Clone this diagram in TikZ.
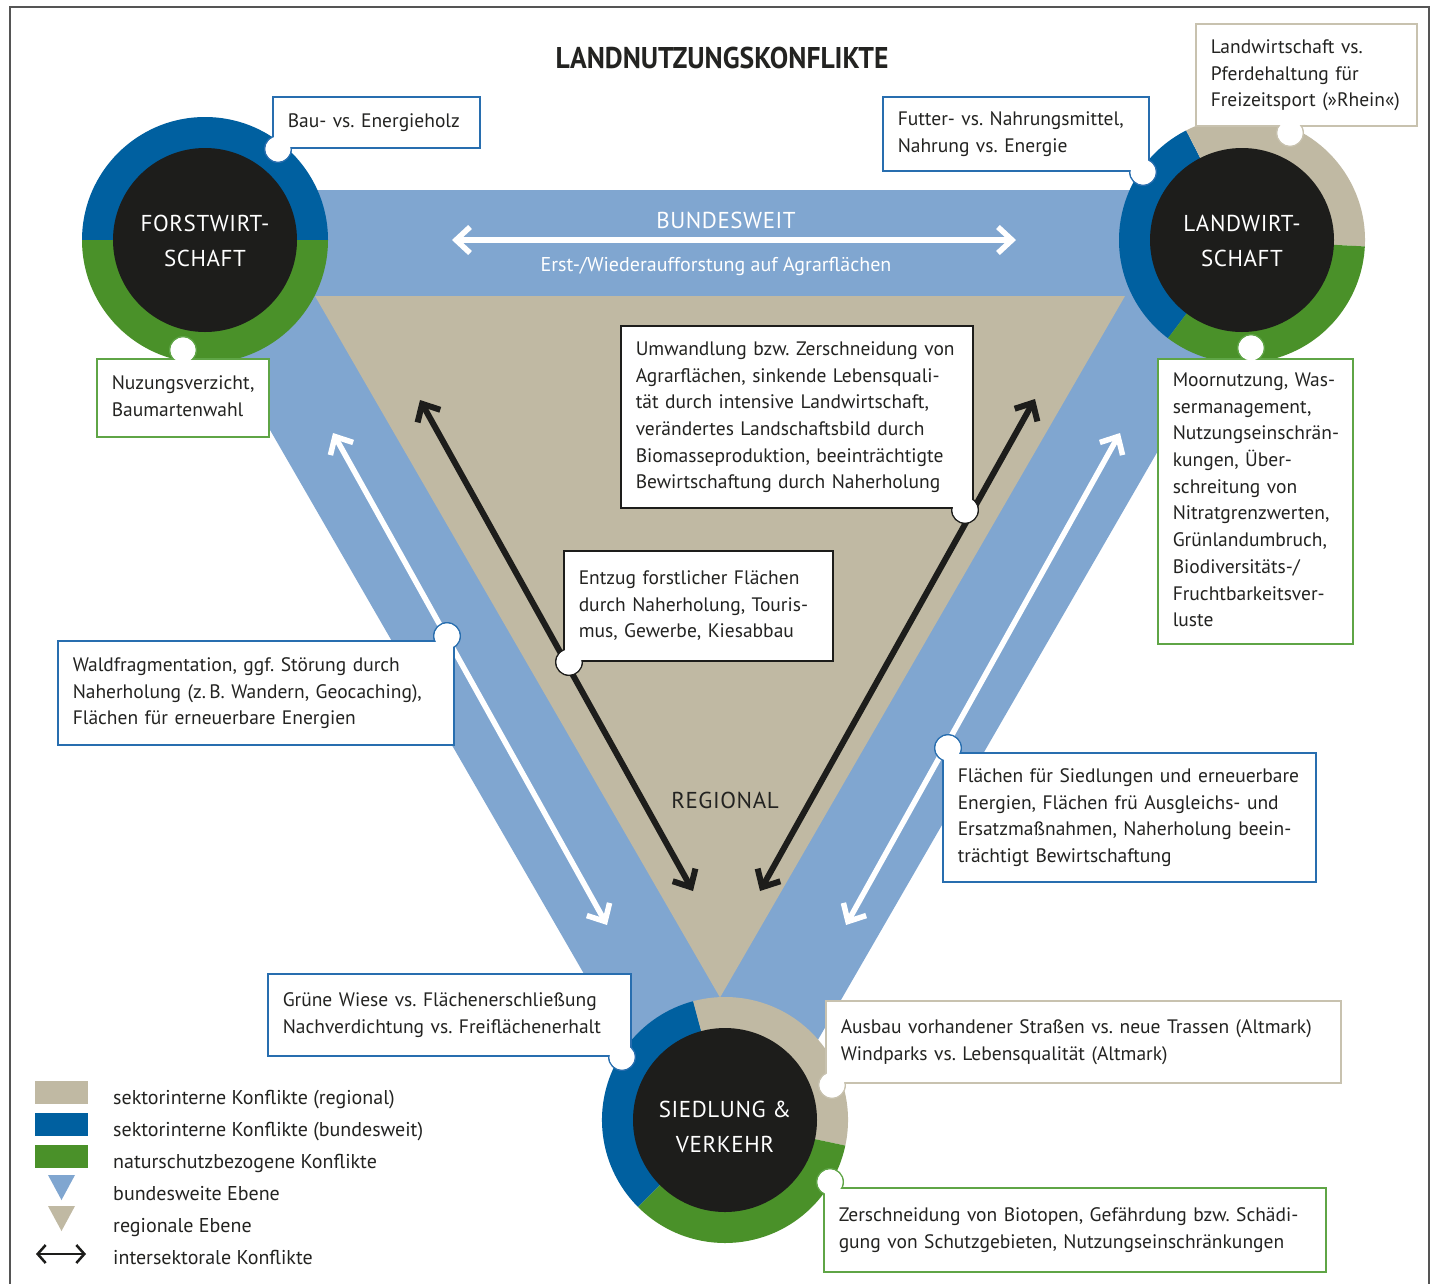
\documentclass[tikz,border=0pt]{standalone}
\usepackage{fontspec}
\setmainfont{PT Sans}
\newfontfamily\capsfont[LetterSpace=2.5]{PT Sans}
\newfontfamily\titlefont[FakeStretch=0.92]{PT Sans}
\usetikzlibrary{arrows.meta}
\frenchspacing
\definecolor{dkblue}{RGB}{0,96,160}
\definecolor{grn}{RGB}{74,145,41}
\definecolor{beige}{RGB}{192,185,163}
\definecolor{ltblue}{RGB}{128,166,208}
\definecolor{blk}{RGB}{29,29,27}
\definecolor{bxblue}{RGB}{40,110,175}
\definecolor{bxgreen}{RGB}{95,165,70}
\definecolor{bxbeige}{RGB}{200,194,175}
\definecolor{txt}{RGB}{35,35,33}
\definecolor{frame}{RGB}{85,85,85}
\tikzset{
  box/.style={draw=#1, fill=white, line width=1.5pt, anchor=north west, align=left,
    inner xsep=15pt, inner ysep=0pt, text=txt, font=\fontsize{19.5}{26.7}\selectfont},
  wharrow/.style={white, line width=5.5pt,
    {Straight Barb[length=14pt,width=26pt]}-{Straight Barb[length=14pt,width=26pt]}},
  bkarrow/.style={blk, line width=6pt,
    {Straight Barb[length=14pt,width=26pt]}-{Straight Barb[length=14pt,width=26pt]}},
  ringlabel/.style={text=white, align=center, font=\capsfont\fontsize{23}{35}\selectfont},
  legtext/.style={anchor=base west, text=txt, font=\fontsize{20}{24}\selectfont, inner sep=0pt},
}
\newcommand\bx[9]{%
  \pgfmathsetmacro\bw{#4-#2}\pgfmathsetmacro\bh{#5-#3}\pgfmathsetmacro\tw{#4-#2-30}%
  \draw[#6, fill=white, line width=1.5pt] (#7,#8) circle (13.25);
  \node[box=#6, minimum width=\bw pt, minimum height=\bh pt, text width=\tw pt] (#1) at (#2,#3)
    {\begin{tabular}{@{}l@{}}#9\end{tabular}};
  \fill[white] (#7,#8) circle (12.5);
}
\begin{document}
\begin{tikzpicture}[x=1pt,y=-1pt]
\clip (0,0) rectangle (1437,1283);
\fill[white] (0,0) rectangle (1437,1283);
\draw[frame, line width=2pt] (10,7) rectangle (1429,1300);

% bands
\fill[ltblue] (131.5,190) -- (1308.5,190) -- (720,1209.5) -- cycle;
\fill[beige] (315,296) -- (1125,296) -- (720,997.5) -- cycle;

% arrow end points
\coordinate (hA) at (452,240); \coordinate (hB) at (1016,240);
\coordinate (wlA) at (333,433); \coordinate (wlB) at (607,925);
\coordinate (wrA) at (1120,433); \coordinate (wrB) at (846,925);
\coordinate (blA) at (420,400); \coordinate (blB) at (693,891);
\coordinate (brA) at (1035,399); \coordinate (brB) at (760,891);
\draw[wharrow] (hA) -- (hB);
\draw[wharrow] (wlA) -- (wlB);
\draw[wharrow] (wrA) -- (wrB);
\draw[bkarrow] (blA) -- (blB);
\draw[bkarrow] (brA) -- (brB);

\node[text=white, font=\capsfont\fontsize{23}{28}\selectfont] (bw) at (726,220) {BUNDESWEIT};
\node[text=white, font=\fontsize{20}{24}\selectfont] (ea) at (716,266) {Erst-/Wiederaufforstung auf Agrarflächen};
\node[text=txt, font=\capsfont\fontsize{23}{28}\selectfont] (rg) at (725,800) {REGIONAL};

% Forstwirtschaft
\coordinate (F) at (205,240);
\fill[dkblue] (F) -- ++(0:123) arc[start angle=0, end angle=-180, radius=123] -- cycle;
\fill[grn] (F) -- ++(180:123) arc[start angle=180, end angle=0, radius=123] -- cycle;
\fill[blk] (F) circle (92);
\node[ringlabel] (Ft) at (205,241) {FORSTWIRT-\\SCHAFT};

% Landwirtschaft
\coordinate (L) at (1242,240);
\fill[dkblue] (L) -- ++(-117:123) arc[start angle=-117, end angle=-233, radius=123] -- cycle;
\fill[beige] (L) -- ++(3:123) arc[start angle=3, end angle=-117, radius=123] -- cycle;
\fill[grn] (L) -- ++(-233:123) arc[start angle=-233, end angle=-357, radius=123] -- cycle;
\fill[blk] (L) circle (92);
\node[ringlabel] (Lt) at (1242,241) {LANDWIRT-\\SCHAFT};

% Siedlung
\coordinate (S) at (725,1120);
\fill[dkblue] (S) -- ++(-105:123) arc[start angle=-105, end angle=-225, radius=123] -- cycle;
\fill[beige] (S) -- ++(12:123) arc[start angle=12, end angle=-105, radius=123] -- cycle;
\fill[grn] (S) -- ++(-225:123) arc[start angle=-225, end angle=-348, radius=123] -- cycle;
\fill[blk] (S) circle (92);
\node[ringlabel] (St) at (725,1127) {SIEDLUNG \&\\VERKEHR};

% boxes
\bx{b1}{272}{96}{479}{147}{bxblue}{278}{149}{Bau- vs. Energieholz}
\bx{b2}{96}{358}{268}{436}{bxgreen}{183}{350}{Nuzungsverzicht,\\Baumartenwahl}
\bx{b3}{882}{96}{1148}{170}{bxblue}{1143}{172}{Futter- vs. Nahrungsmittel,\\Nahrung vs. Energie}
\bx{b4}{1195}{23}{1416}{125}{bxbeige}{1290}{133}{Landwirtschaft vs.\\Pferdehaltung für\\Freizeitsport (»Rhein«)}
\bx{b5}{1157}{358}{1352}{643}{bxgreen}{1251}{348}{Moornutzung, Was-\\sermanagement,\\Nutzungseinschrän-\\kungen, Über-\\schreitung von\\Nitratgrenzwerten,\\Grünlandumbruch,\\Biodiversitäts-/\\Fruchtbarkeitsver-\\luste}
\bx{b6}{620}{325}{972}{507}{blk}{965}{510}{Umwandlung bzw. Zerschneidung von\\Agrarflächen, sinkende Lebensquali-\\tät durch intensive Landwirtschaft,\\verändertes Landschaftsbild durch\\Biomasseproduktion, beeinträchtigte\\Bewirtschaftung durch Naherholung}
\bx{b7}{563}{550}{832}{660}{blk}{569}{662}{Entzug forstlicher Flächen\\durch Naherholung, Touris-\\mus, Gewerbe, Kiesabbau}
\bx{b8}{57}{640}{453}{744}{bxblue}{447}{636}{Waldfragmentation, ggf. Störung durch\\Naherholung (z.\,B. Wandern, Geocaching),\\Flächen für erneuerbare Energien}
\bx{b9}{942}{752}{1315}{881}{bxblue}{948}{748}{Flächen für Siedlungen und erneuerbare\\Energien, Flächen frü Ausgleichs- und\\Ersatzmaßnahmen, Naherholung beein-\\trächtigt Bewirtschaftung}
\bx{b10}{267}{973}{630}{1055}{bxblue}{622}{1057}{Grüne Wiese vs. Flächenerschließung\\Nachverdichtung vs. Freiflächenerhalt}
\bx{b11}{825}{1000}{1340}{1082}{bxbeige}{832}{1085}{Ausbau vorhandener Straßen vs. neue Trassen (Altmark)\\Windparks vs. Lebensqualität (Altmark)}
\bx{b12}{823}{1187}{1325}{1271}{bxgreen}{830}{1182}{Zerschneidung von Biotopen, Gefährdung bzw. Schädi-\\gung von Schutzgebieten, Nutzungseinschränkungen}

% title
\node[text=txt, font=\titlefont\bfseries\fontsize{30}{36}\selectfont] (title) at (722,58) {LANDNUTZUNGSKONFLIKTE};

% legend
\fill[beige] (35,1081) rectangle (88,1104);
\fill[dkblue] (35,1113) rectangle (88,1136);
\fill[grn] (35,1145) rectangle (88,1168);
\fill[ltblue] (48,1175) -- (75,1175) -- (61.5,1200) -- cycle;
\fill[beige] (48,1206) -- (75,1206) -- (61.5,1231) -- cycle;
\coordinate (lgA) at (36,1254); \coordinate (lgB) at (86,1254);
\draw[blk, line width=2.5pt, {Straight Barb[length=8pt,width=18pt]}-{Straight Barb[length=8pt,width=18pt]}] (lgA) -- (lgB);
\node[legtext] (l1) at (113,1104) {sektorinterne Konflikte (regional)};
\node[legtext] (l2) at (113,1136) {sektorinterne Konflikte (bundesweit)};
\node[legtext] (l3) at (113,1168) {naturschutzbezogene Konflikte};
\node[legtext] (l4) at (113,1200) {bundesweite Ebene};
\node[legtext] (l5) at (113,1232) {regionale Ebene};
\node[legtext] (l6) at (113,1264) {intersektorale Konflikte};
\end{tikzpicture}
\end{document}
